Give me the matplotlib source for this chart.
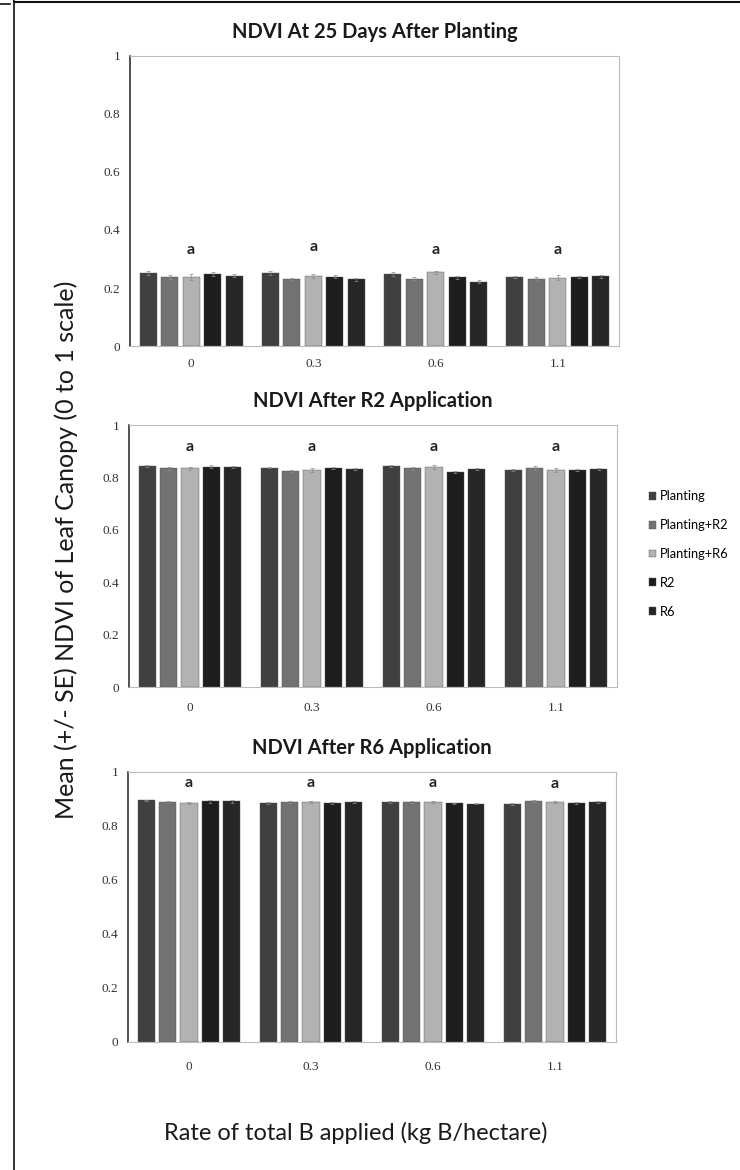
import numpy as np
import matplotlib.pyplot as plt
from matplotlib.lines import Line2D

plt.rcParams['font.family'] = ['Lato', 'DejaVu Sans']

# rates of B (kg/ha) on the x axis, timing treatments as series
rates = ['0', '0.3', '0.6', '1.1']
series = ['Planting', 'Planting+R2', 'Planting+R6', 'R2', 'R6']
colors = ['#404040', '#727272', '#b2b2b2', '#1d1d1d', '#262626']

# NDVI at 25 days after planting, rows = series, cols = rates
ndvi_25d = np.array([
    [0.252, 0.251, 0.247, 0.237],
    [0.237, 0.230, 0.232, 0.232],
    [0.237, 0.241, 0.254, 0.235],
    [0.248, 0.239, 0.237, 0.237],
    [0.243, 0.230, 0.222, 0.240],
])
se_25d = np.array([
    [0.006, 0.007, 0.007, 0.004],
    [0.007, 0.004, 0.006, 0.006],
    [0.010, 0.006, 0.005, 0.009],
    [0.007, 0.005, 0.005, 0.004],
    [0.006, 0.005, 0.006, 0.006],
])
ndvi_r2 = np.array([
    [0.845, 0.837, 0.842, 0.829],
    [0.834, 0.824, 0.835, 0.836],
    [0.834, 0.829, 0.840, 0.829],
    [0.841, 0.836, 0.819, 0.829],
    [0.840, 0.832, 0.833, 0.832],
])
se_r2 = np.array([
    [0.004, 0.003, 0.004, 0.003],
    [0.005, 0.003, 0.006, 0.009],
    [0.007, 0.007, 0.008, 0.007],
    [0.005, 0.003, 0.004, 0.003],
    [0.005, 0.004, 0.003, 0.004],
])
ndvi_r6 = np.array([
    [0.895, 0.885, 0.889, 0.880],
    [0.889, 0.890, 0.888, 0.893],
    [0.885, 0.888, 0.889, 0.888],
    [0.891, 0.886, 0.884, 0.886],
    [0.891, 0.888, 0.883, 0.889],
])
se_r6 = np.array([
    [0.003, 0.003, 0.003, 0.004],
    [0.004, 0.003, 0.004, 0.003],
    [0.004, 0.004, 0.004, 0.004],
    [0.006, 0.004, 0.003, 0.004],
    [0.005, 0.003, 0.003, 0.003],
])
letters = ['a', 'a', 'a', 'a']
letter_y_25d = [0.33, 0.34, 0.33, 0.33]
letter_y_r2 = [0.915, 0.915, 0.915, 0.915]
letter_y_r6 = [0.96, 0.96, 0.96, 0.955]

titles = ['NDVI At 25 Days After Planting', 'NDVI After R2 Application', 'NDVI After R6 Application']

W, H = 740, 1170
fig = plt.figure(figsize=(W / 100, H / 100), dpi=100)


def px_rect(x0, x1, y0, y1):
    return [x0 / W, 1 - y1 / H, (x1 - x0) / W, (y1 - y0) / H]


def draw_panel(rect, values, errs, letter_y, title, xpad):
    ax = fig.add_axes(rect)
    x = np.arange(len(rates))
    pitch, width = 0.176, 0.14
    bars = []
    for i, name in enumerate(series):
        b = ax.bar(x + (i - 2) * pitch, values[i], width, yerr=errs[i], color=colors[i],
                   edgecolor='#555555', linewidth=0.3, label=name,
                   error_kw=dict(ecolor='#8a8a8a', elinewidth=0.5, capsize=1.2, capthick=0.5))
        bars.append(b)
    for xi, (lt, ly) in enumerate(zip(letters, letter_y)):
        ax.text(xi, ly, lt, ha='center', va='center', fontsize=11.5, fontweight='bold', color='#222222')
    ax.set_xlim(-0.5, len(rates) - 0.5)
    ax.set_ylim(0, 1)
    ax.set_xticks(x)
    ax.set_xticklabels(rates, family='Liberation Serif', fontsize=9.5, color='#333333')
    ax.set_yticks(np.arange(0, 1.01, 0.2))
    ax.set_yticklabels(['0', '0.2', '0.4', '0.6', '0.8', '1'], family='Liberation Serif',
                       fontsize=9.5, color='#333333')
    ax.tick_params(axis='x', length=0, pad=xpad)
    ax.tick_params(axis='y', length=0, pad=7)
    ax.spines['left'].set_color('#222222')
    ax.spines['left'].set_linewidth(1.1)
    for s in ['top', 'right', 'bottom']:
        ax.spines[s].set_color('#bbbbbb')
        ax.spines[s].set_linestyle((0, (2, 1)))
        ax.spines[s].set_linewidth(0.8)
    ax.set_title(title, fontsize=14.5, fontweight='bold', color='#1a1a1a', pad=13)
    return ax, bars


ax1, _ = draw_panel(px_rect(130, 619, 56, 346), ndvi_25d, se_25d, letter_y_25d, titles[0], 8.5)
ax2, bars2 = draw_panel(px_rect(129, 617, 425, 687), ndvi_r2, se_r2, letter_y_r2, titles[1], 11)
ax3, _ = draw_panel(px_rect(128, 616, 772, 1042), ndvi_r6, se_r6, letter_y_r6, titles[2], 14)

fig.legend(handles=bars2, labels=series, loc='center left', bbox_to_anchor=(649 / W, 1 - 554 / H),
           frameon=False, fontsize=9.3, handlelength=0.55, handleheight=0.55, handletextpad=0.3,
           labelspacing=1.3, borderpad=0, borderaxespad=0)

fig.text(356 / W, 1 - 1133 / H, 'Rate of total B applied (kg B/hectare)', ha='center', va='center',
         fontsize=17, color='#1a1a1a')
fig.text(66 / W, 1 - 550 / H, 'Mean (+/- SE) NDVI of Leaf Canopy (0 to 1 scale)', ha='center',
         va='center', rotation=90, fontsize=18, color='#1a1a1a')

# page frame lines from the scanned figure
fig.add_artist(Line2D([14 / W, 14 / W], [0, 1], color='#111111', linewidth=1.2))
fig.add_artist(Line2D([14 / W, 1], [1 - 1.5 / H, 1 - 1.5 / H], color='#111111', linewidth=1.5))
fig.add_artist(Line2D([0, 10 / W], [1 - 4 / H, 1 - 4 / H], color='#111111', linewidth=1.2))

fig.savefig('out.png', dpi=100)
